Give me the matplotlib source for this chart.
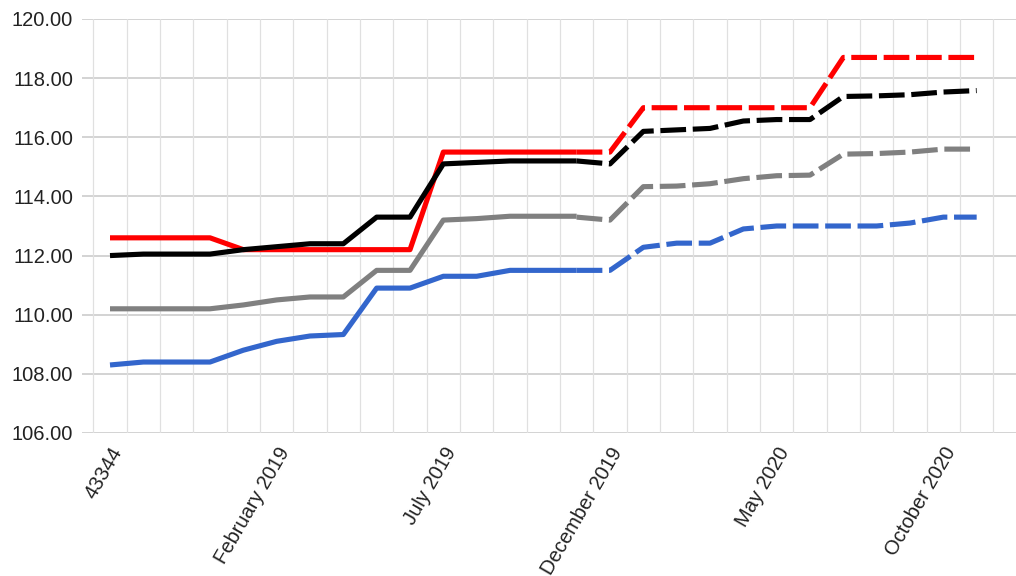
import matplotlib
matplotlib.use("Agg")
import matplotlib.pyplot as plt
import numpy as np

plt.rcParams['font.family'] = ['Liberation Sans', 'DejaVu Sans']

n_months = 27
tick_positions = [0, 5, 10, 15, 20, 25]
tick_labels = ["43344", "February 2019", "July 2019", "December 2019", "May 2020", "October 2020"]

split = 14  # last actual index / first forecast index

red_actual = [112.6, 112.6, 112.6, 112.6, 112.2, 112.2, 112.2, 112.2, 112.2, 112.2,
              115.5, 115.5, 115.5, 115.5, 115.5]
red_forecast = [115.5, 115.5, 117.0, 117.0, 117.0, 117.0, 117.0, 117.0,
                118.7, 118.7, 118.7, 118.7, 118.7]

black_actual = [112.0, 112.05, 112.05, 112.05, 112.2, 112.3, 112.4, 112.4, 113.3, 113.3,
                115.1, 115.15, 115.2, 115.2, 115.2]
black_forecast = [115.2, 115.1, 116.2, 116.25, 116.3, 116.55, 116.6, 116.6,
                  117.38, 117.4, 117.44, 117.53, 117.58]

gray_actual = [110.2, 110.2, 110.2, 110.2, 110.33, 110.5, 110.6, 110.6, 111.5, 111.5,
               113.2, 113.25, 113.33, 113.33, 113.33]
gray_forecast = [113.3, 113.2, 114.33, 114.35, 114.43, 114.6, 114.7, 114.72,
                 115.43, 115.45, 115.5, 115.6, 115.6]

blue_actual = [108.3, 108.4, 108.4, 108.4, 108.8, 109.1, 109.28, 109.33, 110.9, 110.9,
               111.3, 111.3, 111.5, 111.5, 111.5]
blue_forecast = [111.5, 111.5, 112.28, 112.42, 112.42, 112.9, 113.0, 113.0,
                 113.0, 113.0, 113.1, 113.3, 113.3]

series = [
    (blue_actual, blue_forecast, '#3366cc'),
    (gray_actual, gray_forecast, '#808080'),
    (red_actual, red_forecast, '#ff0000'),
    (black_actual, black_forecast, '#000000'),
]

fig = plt.figure(figsize=(10.16, 5.76), dpi=100)
ax = fig.add_axes([82 / 1016, (576 - 433) / 576, (1016 - 82) / 1016, (433 - 19) / 576])

x_all = np.arange(n_months)
lw = 3.7
for act, fc, col in series:
    xa = x_all[:len(act)]
    xf = x_all[split:split + len(fc)]
    ax.plot(xa, act, color=col, lw=lw, solid_joinstyle='round', solid_capstyle='butt', zorder=3)
    ln, = ax.plot(xf, fc, color=col, lw=lw, dash_joinstyle='round', dash_capstyle='butt', zorder=3)
    ln.set_dashes((5.0, 1.3))

ax.set_xlim(-0.84, 27.18)
ax.set_ylim(106, 120)

# vertical grid at category boundaries
for k in range(n_months + 1):
    ax.axvline(k - 0.5, color='#e0e0e0', lw=0.9, zorder=1)
ax.set_yticks(np.arange(106, 120.1, 2))
ax.set_yticklabels([f"{v:.2f}" for v in np.arange(106, 120.1, 2)])
ax.yaxis.grid(True, color='#c8c8c8', lw=1.1, zorder=1)
ax.set_axisbelow(True)

ax.set_xticks(tick_positions)
ax.set_xticklabels(tick_labels, rotation=60, ha='right', rotation_mode='anchor')

ax.tick_params(axis='y', length=0, pad=6.5, labelsize=14.5, labelcolor='#222222')
ax.tick_params(axis='x', length=0, pad=8, labelsize=14.5, labelcolor='#222222')

for s in ax.spines.values():
    s.set_visible(False)

fig.savefig('out.png', dpi=100)
